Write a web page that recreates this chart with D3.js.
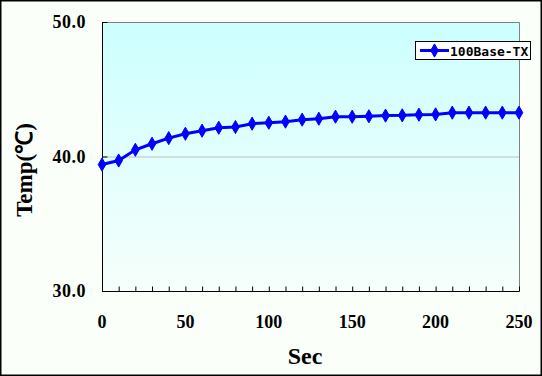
<!DOCTYPE html>
<html>
<head>
<meta charset="utf-8">
<script src="https://cdn.jsdelivr.net/npm/d3@7"></script>
<style>
html,body{margin:0;padding:0;background:#fff;}
svg{display:block;}
</style>
</head>
<body>
<svg id="chart" width="542" height="376"></svg>
<script>
const seconds = [0,10,20,30,40,50,60,70,80,90,100,110,120,130,140,150,160,170,180,190,200,210,220,230,240,250];
const temps = [39.40,39.70,40.50,40.95,41.37,41.69,41.92,42.14,42.19,42.44,42.51,42.59,42.74,42.81,42.96,42.96,42.99,43.04,43.06,43.11,43.13,43.26,43.26,43.26,43.26,43.26];
const seriesName = "100Base-TX";
const xTicks = [0,50,100,150,200,250];
const yTicks = [30,40,50];
const xLabel = "Sec";
const yLabel = "Temp(℃)";

const svg = d3.select("#chart");
const W = 542, H = 376;
const L = 102, R = 519, T = 22, B = 291;

svg.append("rect").attr("x",0).attr("y",0).attr("width",W).attr("height",H).attr("fill","#fafffa");
svg.append("rect").attr("x",0.75).attr("y",0.75).attr("width",W-1.5).attr("height",H-1.5)
  .attr("fill","none").attr("stroke","#000").attr("stroke-width",1.5);

const defs = svg.append("defs");
const grad = defs.append("linearGradient").attr("id","bg").attr("x1",0).attr("y1",0).attr("x2",0).attr("y2",1);
grad.append("stop").attr("offset","0%").attr("stop-color","#ccffff");
grad.append("stop").attr("offset","100%").attr("stop-color","#f6fffb");

const x = d3.scaleLinear().domain([0,250]).range([L,R]);
const y = d3.scaleLinear().domain([30,50]).range([B,T]);

svg.append("rect").attr("x",L).attr("y",T).attr("width",R-L).attr("height",B-T).attr("fill","url(#bg)");

// gridline at 40
svg.append("line").attr("x1",L).attr("x2",R).attr("y1",y(40)+0.5).attr("y2",y(40)+0.5)
  .attr("stroke","#c0c0c0").attr("stroke-width",1);

// top & right border gray
svg.append("path").attr("d",`M${L},${T+0.5}H${R+0.5}V${B}`).attr("fill","none").attr("stroke","#808080").attr("stroke-width",1);

// x axis with inward minor ticks
const xAxis = d3.axisBottom(x).tickValues(seconds).tickSize(-5).tickFormat("");
const gx = svg.append("g").attr("transform",`translate(0,${B+0.5})`).call(xAxis);
gx.select(".domain").attr("stroke","#000").attr("d",`M${L},0H${R+0.5}`);
gx.selectAll(".tick line").attr("stroke","#000");

// y axis with inward ticks
const yAxis = d3.axisLeft(y).tickValues(yTicks).tickSize(-5).tickFormat("");
const gy = svg.append("g").attr("transform",`translate(${L+0.5},0)`).call(yAxis);
gy.select(".domain").attr("stroke","#000").attr("d",`M0,${T}V${B+0.5}`);
gy.selectAll(".tick line").attr("stroke","#000");

const labelFont = "'Liberation Serif','Times New Roman',serif";
// y tick labels
svg.selectAll(".ylab").data(yTicks).enter().append("text")
  .attr("x",86).attr("y",d=>y(d)).attr("dy","0.36em")
  .attr("text-anchor","end").attr("font-family",labelFont).attr("font-weight","bold")
  .attr("font-size",18).attr("letter-spacing",0.5).text(d=>d.toFixed(1));
// x tick labels
svg.selectAll(".xlab").data(xTicks).enter().append("text")
  .attr("x",d=>x(d)).attr("y",322).attr("dy","0.36em")
  .attr("text-anchor","middle").attr("font-family",labelFont).attr("font-weight","bold")
  .attr("font-size",18).text(d=>d);

svg.append("text").attr("x",305).attr("y",355).attr("dy","0.36em").attr("text-anchor","middle")
  .attr("font-family",labelFont).attr("font-weight","bold").attr("font-size",24).text(xLabel);
svg.append("text").attr("transform","translate(24,170) rotate(-90)").attr("dy","0.36em").attr("text-anchor","middle")
  .attr("font-family",labelFont).attr("font-weight","bold").attr("font-size",23).text(yLabel);

// line
const line = d3.line().x((d,i)=>x(seconds[i])).y(d=>y(d));
svg.append("path").datum(temps).attr("d",line).attr("fill","none").attr("stroke","#0000ff").attr("stroke-width",3);
const diamond = d3.symbol().type(d3.symbolDiamond).size(50);
svg.selectAll(".pt").data(temps).enter().append("path")
  .attr("d",diamond).attr("transform",(d,i)=>`translate(${x(seconds[i])},${y(d)})`)
  .attr("fill","#0000ff").attr("stroke","#0000ff").attr("stroke-width",1);

// legend
const lg = svg.append("g");
lg.append("rect").attr("x",415.5).attr("y",41.5).attr("width",115).attr("height",18)
  .attr("fill","#fff").attr("stroke","#000").attr("stroke-width",1);
lg.append("line").attr("x1",420).attr("x2",449).attr("y1",50.5).attr("y2",50.5).attr("stroke","#0000ff").attr("stroke-width",3);
lg.append("path").attr("d",diamond).attr("transform","translate(434.5,50.5)").attr("fill","#0000ff").attr("stroke","#0000ff");
lg.append("text").attr("x",450).attr("y",51).attr("dy","0.36em")
  .attr("font-family","'DejaVu Sans Mono',monospace").attr("font-weight","bold").attr("font-size",13)
  .text(seriesName);
</script>
</body>
</html>
